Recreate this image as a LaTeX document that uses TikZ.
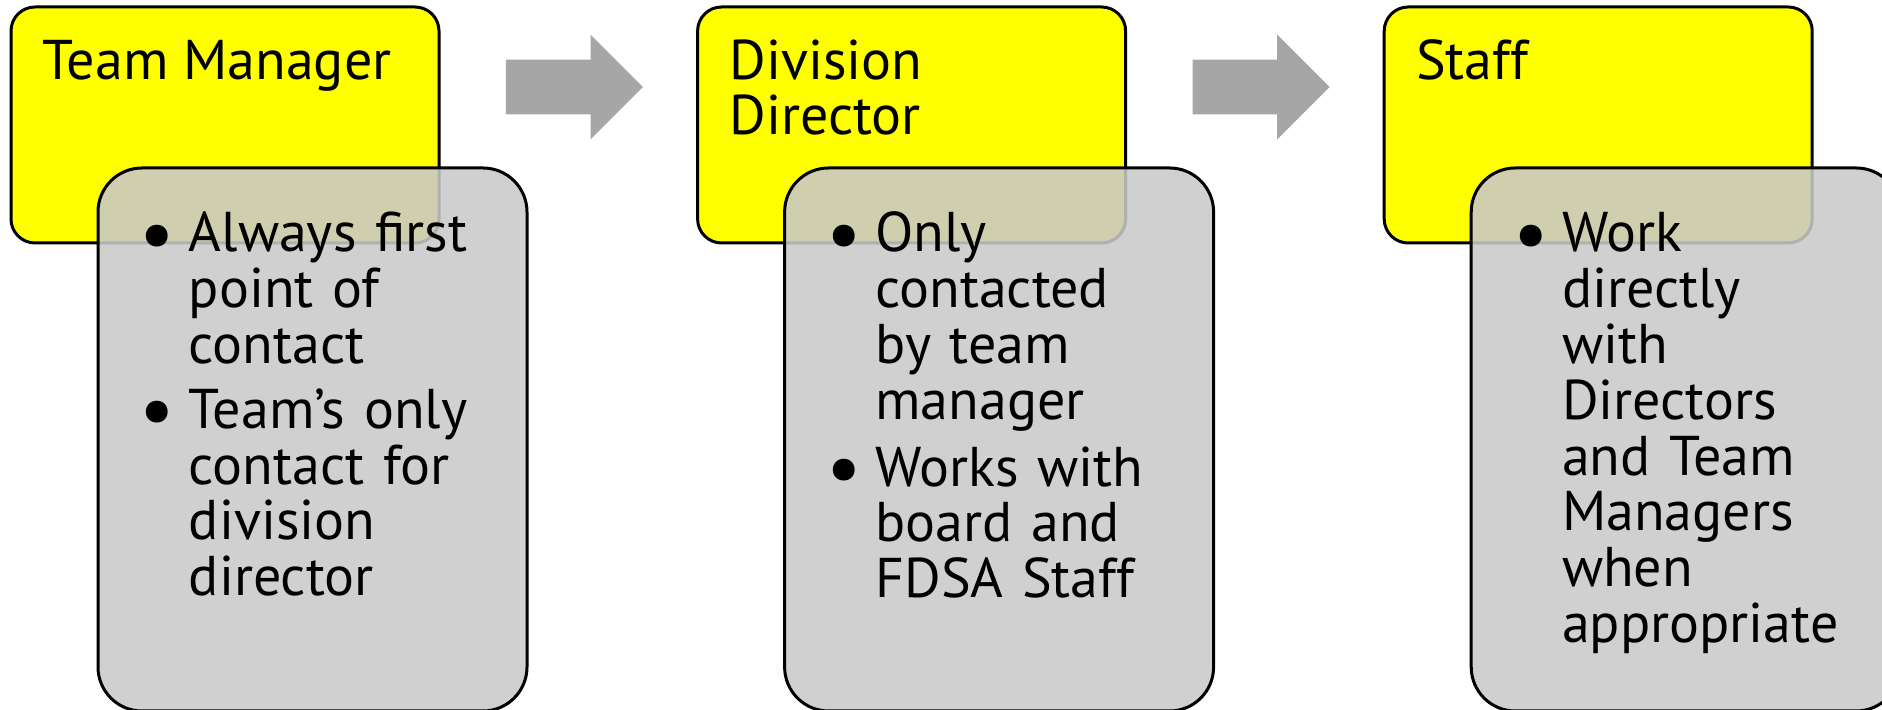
\documentclass[tikz,border=0pt]{standalone}
\usepackage{fontspec}
\setmainfont{PT Sans}
\usetikzlibrary{positioning,shapes.arrows}

\definecolor{headyellow}{HTML}{FFFF00}
\definecolor{boxgray}{HTML}{C9C9C9}
\definecolor{arrowgray}{HTML}{A6A6A6}

% one bullet point with hanging lines
\newcommand{\bul}[1]{\hangindent=21pt\hangafter=1\noindent\rule{0pt}{22pt}%
  \makebox[21pt][l]{\hspace{-3.5pt}\raisebox{-4.2pt}{\scalebox{1.4}{\textbullet}}}#1\par}

\begin{document}
\begin{tikzpicture}[x=1pt, y=1pt,
    head/.style = {draw, line width=1.5pt, fill=headyellow, rounded corners=12pt,
                   minimum width=214pt, minimum height=118pt},
    info/.style = {draw, line width=1.5pt, fill=boxgray, fill opacity=0.88, draw opacity=1,
                   rounded corners=22pt, minimum width=214.5pt, minimum height=271.5pt,
                   anchor=north west},
    headtext/.style = {anchor=north west, inner sep=0pt, align=left,
                       font=\fontsize{28}{27.5}\selectfont},
    infotext/.style = {anchor=north west, inner sep=0pt, text width=190pt, align=left,
                       font=\fontsize{28}{27.9}\selectfont,
                       execute at begin node={\setlength{\parskip}{4.5pt}}},
    flow/.style = {single arrow, fill=arrowgray, inner sep=0pt, text height=27pt, text depth=0pt,
                   text width=0pt, single arrow head extend=12.5pt, minimum height=68.5pt,
                   anchor=tail}]
	\clip (0,0) rectangle (941,355);

	% yellow heads
	\node[head] (tm) at (112.5,292.5) {};
	\node[head] (dd) [right=127.8pt of tm] {};
	\node[head] (st) [right=127.8pt of dd] {};

	% gray boxes
	\node[info] (tmi) at ([xshift=43.5pt, yshift=39pt]tm.south west) {};
	\node[info] (ddi) at ([xshift=43.5pt, yshift=39pt]dd.south west) {};
	\node[info] (sti) at ([xshift=43.5pt, yshift=39pt]st.south west) {};

	% arrows
	\node[flow] (a1) at ([xshift=32.5pt, yshift=19pt]tm.east) {};
	\node[flow] (a2) at ([xshift=32.5pt, yshift=19pt]dd.east) {};

	% texts
	\node[headtext] (tmt) at ([xshift=16.5pt, yshift=-15pt]tm.north west) {\rule{0pt}{22pt}Team Manager};
	\node[headtext] (ddt) at ([xshift=16.5pt, yshift=-15pt]dd.north west) {\rule{0pt}{22pt}Division\\Director};
	\node[headtext] (stt) at ([xshift=16.5pt, yshift=-15pt]st.north west) {\rule{0pt}{22pt}Staff};

	\node[infotext] (tml) at ([xshift=25pt, yshift=-20.5pt]tmi.north west)
		{\bul{Always first\newline point of\newline contact}\bul{Team's only\newline contact for\newline division\newline director}};
	\node[infotext] (ddl) at ([xshift=25pt, yshift=-20.5pt]ddi.north west)
		{\bul{Only\newline contacted\newline by team\newline manager}\bul{Works with\newline board and\newline FDSA Staff}};
	\node[infotext] (stl) at ([xshift=25pt, yshift=-20.5pt]sti.north west)
		{\bul{Work\newline directly\newline with\newline Directors\newline and Team\newline Managers\newline when\newline appropriate}};
\end{tikzpicture}
\end{document}
